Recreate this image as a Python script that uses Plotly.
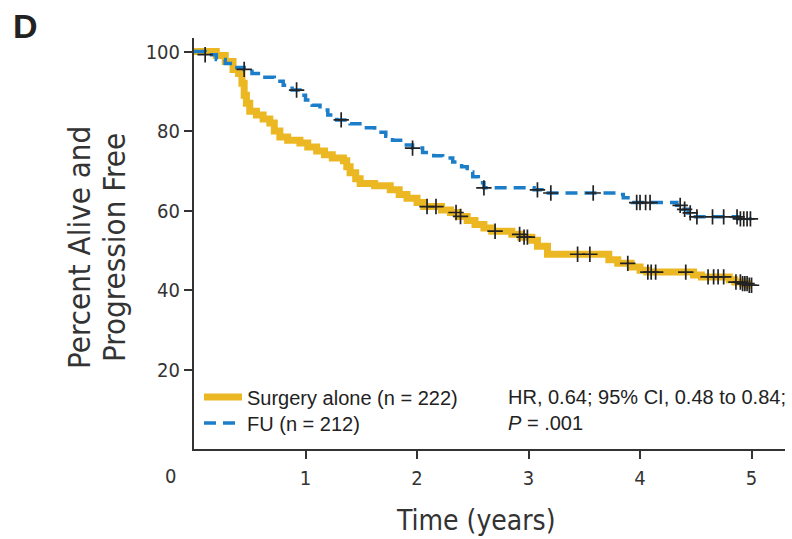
import numpy as np
import plotly.graph_objects as go

# ---------------- data ----------------
surgery_t = [0, 0.20, 0.28, 0.35, 0.40, 0.43, 0.45, 0.47, 0.50, 0.56, 0.62, 0.68, 0.72, 0.77,
             0.84, 0.95, 1.02, 1.10, 1.17, 1.24, 1.34, 1.37, 1.40, 1.45, 1.49, 1.62, 1.76,
             1.84, 1.91, 2.00, 2.06, 2.22, 2.30, 2.37, 2.45, 2.52, 2.60, 2.67, 2.85, 2.93,
             3.03, 3.08, 3.17, 3.72, 3.80, 3.92, 4.00, 4.06, 4.48, 4.55, 4.80, 4.85, 4.92,
             4.97, 5.00]
surgery_s = [100, 99, 97.5, 95.5, 94.5, 92, 89, 87, 85, 84, 83, 82, 80, 78.5,
             77.7, 77, 76, 75, 74, 73.2, 72.5, 71, 69.5, 68, 66.8, 66.2, 65.2,
             64, 63.1, 62, 61, 60.1, 59.5, 58.5, 57.5, 56.5, 55.6, 54.8, 54, 53.3,
             52.5, 51, 49, 47.6, 46.7, 45.8, 45, 44.5, 43.8, 43.3, 42.6, 42, 41.6,
             41.2, 41.2]
surgery_censor = [2.09, 2.17, 2.35, 2.39, 2.70, 2.92, 2.96, 2.99, 3.44, 3.55, 3.89, 4.07,
                  4.10, 4.14, 4.41, 4.61, 4.66, 4.70, 4.75, 4.86, 4.90, 4.92, 4.94, 4.96,
                  4.98, 5.00]

fu_t = [0, 0.10, 0.20, 0.28, 0.36, 0.45, 0.52, 0.60, 0.72, 0.80, 0.88, 0.95, 1.00, 1.06,
        1.13, 1.20, 1.28, 1.40, 1.52, 1.62, 1.72, 1.78, 1.88, 1.96, 2.05, 2.15, 2.23,
        2.32, 2.40, 2.45, 2.50, 2.55, 2.60, 3.05, 3.12, 3.78, 3.85, 3.93, 4.33, 4.38,
        4.43, 4.48, 4.88, 5.00]
fu_s = [100, 99.2, 98, 97, 96, 95.5, 94.5, 93.5, 92.5, 91.5, 90.3, 89, 87.8, 86.5,
        85.3, 84, 82.8, 81.8, 80.8, 79.7, 78.7, 77.7, 76.5, 75.7, 74.6, 73.8, 73.2,
        72.2, 71, 69.7, 68.5, 67, 65.7, 65.2, 64.4, 64.0, 63.2, 62, 61.3, 60.3,
        59.4, 58.4, 57.9, 57.9]
fu_censor = [0.10, 0.45, 0.92, 1.32, 1.96, 2.60, 3.08, 3.20, 3.58, 3.97, 4.00, 4.05, 4.09,
             4.36, 4.40, 4.45, 4.51, 4.65, 4.75, 4.87, 4.90, 4.93, 4.96, 4.99]

x_ticks = [1, 2, 3, 4, 5]
y_ticks = [20, 40, 60, 80, 100]

labels = ["Surgery alone (n = 222)", "FU (n = 212)"]
stats_lines = ["HR, 0.64; 95% CI, 0.48 to 0.84;", "<i>P</i> = .001"]
y_title_lines = ["Percent Alive and", "Progression Free"]

YELLOW = "#EBB823"
BLUE = "#1C7DC8"
AXIS = "#333333"
NARROW = "DejaVu Sans Condensed, sans-serif"
SANS = "Liberation Sans, Arial, Helvetica, sans-serif"

# plot-area geometry (pixels)
L, R, T, B = 194, 7, 38, 90
PW, PH = 792 - L - R, 539 - T - B


def step_lookup(times, surv, pts):
    idx = np.searchsorted(np.array(times), np.array(pts), side="right") - 1
    return [surv[i] for i in idx]


fig = go.Figure()

fig.add_trace(go.Scatter(
    x=surgery_t, y=surgery_s, mode="lines", line_shape="hv",
    line=dict(color=YELLOW, width=7), name=labels[0], legend="legend"))
fig.add_trace(go.Scatter(
    x=fu_t, y=fu_s, mode="lines", line_shape="hv",
    line=dict(color=BLUE, width=3.5, dash="12px,7px"), name=labels[1], legend="legend2"))

for times, surv, cens in [(surgery_t, surgery_s, surgery_censor), (fu_t, fu_s, fu_censor)]:
    fig.add_trace(go.Scatter(
        x=cens, y=step_lookup(times, surv, cens), mode="markers", showlegend=False,
        marker=dict(symbol="cross-thin", size=11, color="#222",
                    line=dict(color="#222", width=1.7))))

legend_common = dict(xanchor="left", yanchor="middle", bgcolor="rgba(0,0,0,0)",
                     font=dict(family=SANS, size=20, color="#222"), itemwidth=38)

fig.update_layout(
    width=792, height=539,
    margin=dict(l=L, r=R, t=T, b=B),
    plot_bgcolor="white", paper_bgcolor="white",
    showlegend=True,
    legend=dict(x=(199 - L) / PW, y=(449 - 397) / PH, **legend_common),
    legend2=dict(x=(199 - L) / PW, y=(449 - 423) / PH, **legend_common),
    font=dict(family=NARROW, color="#333"),
)

fig.update_xaxes(
    range=[0, 5.3], tickvals=x_ticks, ticks="outside", ticklen=8, tickwidth=2,
    tickcolor=AXIS, showline=True, linecolor=AXIS, linewidth=2, showgrid=False,
    zeroline=False, tickfont=dict(family=NARROW, size=20, color="#333"),
    ticklabelstandoff=2)
fig.update_yaxes(
    range=[0, 103.4], tickvals=y_ticks, ticks="outside", ticklen=8, tickwidth=2,
    tickcolor=AXIS, showline=True, linecolor=AXIS, linewidth=2, showgrid=False,
    zeroline=False, tickfont=dict(family=NARROW, size=20, color="#333"))

# origin label
fig.add_annotation(x=0, y=0, xref="x", yref="y", text="0", showarrow=False,
                   xshift=-24, yshift=-27, font=dict(family=NARROW, size=20, color="#333"))
# axis titles
fig.add_annotation(x=(476 - L) / PW, y=0, xref="x domain", yref="y domain", text="Time (years)",
                   showarrow=False, yshift=-71, yanchor="middle",
                   font=dict(family=NARROW, size=28, color="#333"))
for i, line in enumerate(y_title_lines):
    fig.add_annotation(x=0, y=(449 - 248) / PH, xref="x domain", yref="y domain",
                       text=line, textangle=-90, showarrow=False,
                       xshift=-(L - 79) + 35 * i, xanchor="center", yanchor="middle",
                       font=dict(family=NARROW, size=31, color="#333"))
# stats
for i, line in enumerate(stats_lines):
    fig.add_annotation(x=(506 - L) / PW, y=0, xref="x domain", yref="y domain",
                       text=line, showarrow=False, xanchor="left", yanchor="middle",
                       yshift=52 - 26 * i, font=dict(family=SANS, size=20, color="#222"))
# panel letter
fig.add_annotation(x=(11 - L) / PW, y=1 + (T - 26) / PH, xref="paper", yref="paper",
                   text="<b>D</b>", showarrow=False, xanchor="left", yanchor="middle",
                   font=dict(family=SANS, size=34, color="#222"))

fig.write_html("out.html")
